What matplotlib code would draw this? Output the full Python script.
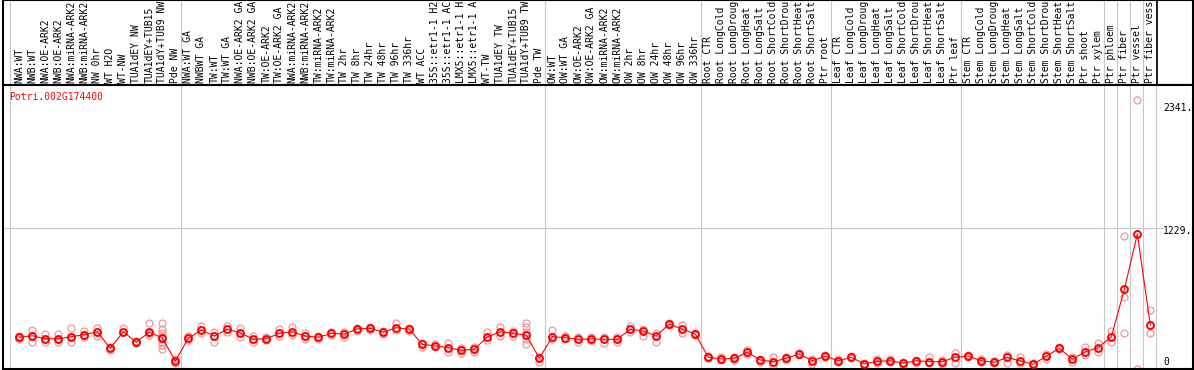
import matplotlib
matplotlib.use('Agg')
import matplotlib.pyplot as plt

# sample labels (as far as they show in the header strip)
muestras = [
    'NWA:WT', 'NWB:WT', 'NWA:OE-ARK2', 'NWB:OE-ARK2', 'NWA:miRNA-ARK2', 'NWB:miRNA-ARK2',
    'NW 0hr', 'WT H2O', 'WT-NW', 'TUA1dEY NW', 'TUA1dEY+TUB15', 'TUA1dY+TUB9 NW', 'Pde NW',
    'NWA:WT GA', 'NWBWT GA', 'TW:WT', 'TW:WT GA', 'NWA:OE-ARK2 GA', 'NWB:OE-ARK2 GA',
    'TW:OE-ARK2', 'TW:OE-ARK2 GA', 'NWA:miRNA-ARK2', 'NWB:miRNA-ARK2', 'TW:miRNA-ARK2',
    'TW:miRNA-ARK2', 'TW 2hr', 'TW 8hr', 'TW 24hr', 'TW 48hr', 'TW 96hr', 'TW 336hr',
    'WT ACC', '35S::etr1-1 H2', '35S::etr1-1 AC', 'LMX5::etr1-1 H', 'LMX5::etr1-1 A',
    'WT-TW', 'TUA1dEY TW', 'TUA1dEY+TUB15', 'TUA1dY+TUB9 TW', 'Pde TW',
    'OW:WT', 'OW:WT GA', 'OW:OE-ARK2', 'OW:OE-ARK2 GA', 'OW:miRNA-ARK2', 'OW:miRNA-ARK2',
    'OW 2hr', 'OW 8hr', 'OW 24hr', 'OW 48hr', 'OW 96hr', 'OW 336hr',
    'Root CTR', 'Root LongCold', 'Root LongDroug', 'Root LongHeat', 'Root LongSalt',
    'Root ShortCold', 'Root ShortDrou', 'Root ShortHeat', 'Root ShortSalt', 'Ptr root',
    'Leaf CTR', 'Leaf LongCold', 'Leaf LongDroug', 'Leaf LongHeat', 'Leaf LongSalt',
    'Leaf ShortCold', 'Leaf ShortDrou', 'Leaf ShortHeat', 'Leaf ShortSalt', 'Ptr leaf',
    'Stem CTR', 'Stem LongCold', 'Stem LongDroug', 'Stem LongHeat', 'Stem LongSalt',
    'Stem ShortCold', 'Stem ShortDrou', 'Stem ShortHeat', 'Stem ShortSalt', 'Ptr shoot',
    'Ptr xylem', 'Ptr phloem', 'Ptr fiber', 'Ptr vessel', 'Ptr fiber vess',
]

# mean expression
media = [
    276, 290, 264, 264, 282, 299, 325, 180, 325, 233, 323, 270, 70,
    268, 340, 288, 346, 316, 259, 264, 311, 325, 288, 276, 311, 305, 349, 355, 320, 360, 346,
    215, 201, 186, 163, 172, 279, 325, 311, 296, 93,
    282, 273, 259, 262, 259, 259, 346, 331, 290, 392, 346, 305,
    102, 87, 93, 146, 78, 64, 93, 131, 72, 113,
    72, 102, 44, 67, 72, 50, 72, 64, 64, 102,
    113, 72, 58, 102, 70, 41, 113, 180, 85, 151,
    186, 282, 695, 1177, 381,
]

# replicates
replicas = [
    [288, 264], [340, 290, 238], [305, 264, 233], [305, 264, 233], [360, 282, 233],
    [331, 299, 276], [355, 325, 288], [194, 166], [360, 325], [247, 224],
    [398, 316, 296], [398, 346, 311, 276, 238, 209, 172], [85, 55],
    [288, 253], [375, 316], [325, 238], [375, 325], [355, 282], [288, 238], [276, 253],
    [346, 288], [364, 296], [311, 259], [288, 264], [325, 296], [325, 282], [360, 334],
    [369, 340], [334, 305], [398, 340], [360, 334],
    [229, 189], [218, 194], [224, 151], [180, 137], [189, 151], [320, 253], [364, 288],
    [334, 288], [398, 364, 325, 259, 218], [107, 64],
    [340, 259], [288, 259], [276, 238], [276, 247], [276, 224], [276, 238], [375, 325],
    [346, 288], [311, 238], [404, 384], [384, 311], [316, 294],
    [113, 93], [102, 78], [107, 78], [166, 131], [85, 64], [102, 35], [102, 78],
    [142, 122], [85, 44], [122, 102],
    [85, 64], [113, 93], [55, 35], [85, 55], [85, 64], [64, 35], [78, 55], [102, 50],
    [78, 44], [142, 55],
    [122, 107], [85, 64], [72, 50], [122, 55], [102, 50], [50, 35], [131, 85],
    [189, 172], [102, 64], [194, 122],
    [224, 151], [334, 238], [1159, 625, 311], [2341, 0], [514, 311],
]

separadores = [-0.7, 12.4, 40.4, 52.4, 62.4, 72.4, 83.4, 84.4, 85.4, 86.4, 87.4]

fuente = 'DejaVu Sans Mono'
fs = 7.0
gris = '#c8c8c8'
rojo = '#ff0000'
rosa = '#f09696'

W, H = 1194, 370
x0, x1 = -1.254, 90.28
x = list(range(len(muestras)))

fig = plt.figure(figsize=(W / 100, H / 100), dpi=100)

# label strip on top
ax_t = fig.add_axes([3 / W, (H - 85) / H, 1190 / W, 85 / H])
ax_t.set_xlim(x0, x1)
ax_t.set_ylim(0, 85)
ax_t.set_xticks([])
ax_t.set_yticks([])
for s in ax_t.spines.values():
    s.set_linewidth(1.5)
for sx in separadores:
    ax_t.axvline(sx, color=gris, lw=0.8, zorder=0)
ax_t.axvline(87.5, color='black', lw=1.2)
for i, nombre in enumerate(muestras):
    ax_t.text(i, 2, nombre, rotation=90, ha='center', va='bottom', family=fuente,
              fontsize=fs, clip_on=True)

# data area
ax = fig.add_axes([3 / W, 1 / H, 1190 / W, 284 / H])
ax.set_xlim(x0, x1)
ax.set_ylim(0, 2476)
ax.set_xticks([])
ax.set_yticks([])
for s in ax.spines.values():
    s.set_linewidth(1.5)
for sx in separadores:
    ax.axvline(sx, color=gris, lw=0.8, zorder=0)
ax.hlines(1229, x0, 88.0, color=gris, lw=0.8, zorder=0)

for i, reps in enumerate(replicas):
    ax.plot([i] * len(reps), reps, 'o', mfc='none', mec=rosa, ms=5, mew=0.9,
            clip_on=True, zorder=2)
ax.plot(x, media, '-', color=rojo, lw=0.8, zorder=3)
ax.plot(x, media, 'o', mfc='none', mec=rojo, ms=5, mew=1.4, zorder=4)

ax.text(6 / 1190, 1 - 12 / 284, 'Potri.002G174400', transform=ax.transAxes, color=rojo,
        family=fuente, fontsize=fs, va='center', ha='left')

for val, off in [(2341, -8), (1229, -3), (0, 7)]:
    ax.annotate(f'{val}.' if val else '0', xy=(88.0, val), xytext=(0, off * 0.72),
                textcoords='offset points', family=fuente, fontsize=fs,
                va='center', ha='left')

plt.savefig('out.png', dpi=100)
